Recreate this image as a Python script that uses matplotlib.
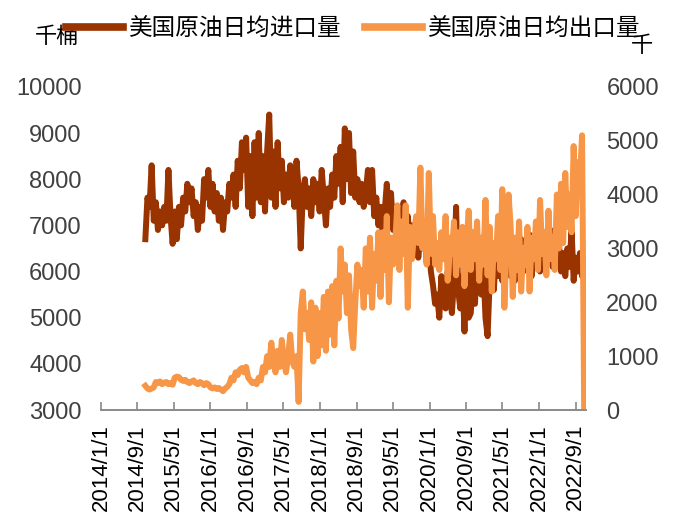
import matplotlib
matplotlib.use('Agg')
import matplotlib.pyplot as plt
import pandas as pd

plt.rcParams['font.family'] = ['Liberation Sans', 'Noto Sans CJK SC', 'DejaVu Sans']

# biweekly points, 2014-10-24 .. 2022-10-28
dates = pd.date_range('2014-10-24', periods=210, freq='14D')

imports = [
    6700, 7600, 7400, 8300, 7100, 7500, 6900, 7300, 7000, 7400,
    7100, 8200, 7200, 6600, 7300, 6700, 7400, 7000, 7600, 7300,
    7900, 7500, 7800, 7200, 7500, 6900, 7400, 7100, 8000, 7600,
    8200, 7400, 7900, 7300, 7700, 7100, 7600, 6900, 7500, 7300,
    7900, 7600, 8100, 7400, 8400, 7800, 8800, 8200, 8900, 7400,
    8500, 7200, 8800, 7600, 9000, 7500, 8500, 7300, 8600, 9400,
    7600, 8600, 7400, 8800, 7800, 8400, 7500, 8100, 7600, 8300,
    7900, 7400, 8400, 7800, 6500, 7700, 8000, 7400, 7800, 7200,
    8000, 7500, 7900, 7300, 8200, 7600, 7000, 7800, 7400, 8100,
    7600, 8500, 7900, 8700, 7500, 9100, 8000, 9000, 7700, 8600,
    7600, 8000, 7500, 7900, 7400, 7700, 8200, 7500, 8200, 7200,
    7600, 7000, 7400, 6900, 7300, 7900, 7100, 7700, 6900, 7400,
    6800, 7300, 7000, 7500, 6800, 7200, 6600, 7000, 6500, 6900,
    6300, 6800, 6500, 6900, 6200, 6700, 6000, 5700, 5300, 5500,
    5000, 5900, 5400, 5200, 6000, 5500, 5100, 5800, 7400, 5600,
    5200, 5900, 4700, 6200, 5000, 5100, 6000, 5300, 6400, 5700,
    5500, 6100, 5000, 4600, 5800, 6300, 5600, 6500, 5900, 6200,
    5800, 6400, 6000, 6600, 5900, 6300, 5800, 6500, 6100, 6700,
    6000, 6600, 6200, 6800, 5900, 6500, 6100, 6700, 6000, 6600,
    6200, 6800, 6300, 6900, 6100, 6700, 6300, 6600, 6000, 6400,
    5900, 6500, 6100, 6900, 5800, 6300, 6000, 6400, 5900, 6000,
]

exports = [
    450, 400, 380, 400, 420, 520, 500, 530, 480, 510,
    520, 480, 500, 470, 600, 620, 610, 560, 540, 560,
    520, 500, 530, 550, 500, 480, 520, 500, 460, 500,
    480, 420, 400, 420, 390, 410, 380, 350, 400, 430,
    480, 600, 550, 700, 650, 750, 780, 700, 800, 600,
    550, 500, 520, 480, 600, 550, 800, 700, 1000, 800,
    1250, 900, 700, 1100, 800, 1300, 900, 700, 1000, 1400,
    900, 800, 1000, 150, 1800, 2200, 1500, 1800, 1300, 2000,
    900, 1900, 1000, 1800, 1200, 2100, 1100, 2200, 1400, 2300,
    1200, 2400, 1700, 3000, 2200, 2700, 1800, 2500, 1500, 1150,
    2000, 2700, 2300, 2600, 1900, 3000, 2200, 3200, 1900, 2900,
    2400, 3300, 2100, 3300, 2600, 3600, 2000, 3200, 2700, 3100,
    3800, 2600, 3500, 2900, 3800, 1900, 3400, 2800, 3300, 3600,
    3100, 4500, 3000, 3500, 2700, 4400, 2900, 3600, 2700, 3100,
    2600, 3300, 2800, 3600, 2400, 3200, 2900, 3500, 2500, 3300,
    2700, 3400, 2300, 3100, 3700, 2600, 3300, 2800, 3500, 2400,
    3200, 2700, 3900, 2500, 3400, 2200, 3100, 2800, 3600, 2600,
    4100, 1900, 3000, 4000, 3400, 2100, 3200, 2600, 3500, 2200,
    3000, 2700, 3400, 2200, 3200, 2800, 3500, 2600, 3900, 2900,
    3300, 2500, 3700, 2800, 3200, 2600, 4000, 3000, 4200, 3100,
    4400, 3400, 4000, 3300, 4900, 3600, 4600, 4300, 5100, 0,
]

tick_dates = pd.date_range('2014-01-01', '2022-09-01', freq='8MS')
tick_labels = [f'{d.year}/{d.month}/{d.day}' for d in tick_dates]

brown = '#993300'
orange = '#F79646'
grey = '#404040'

fig = plt.figure(figsize=(6.73, 5.2), dpi=100)
ax = fig.add_axes([0.150, 0.2115, 0.720, 0.6215])
ax2 = ax.twinx()

l1, = ax.plot(dates, imports, color=brown, lw=4.3, solid_joinstyle='round')
l2, = ax2.plot(dates, exports, color=orange, lw=4.3, solid_joinstyle='round')

ax.set_ylim(3000, 10000)
ax2.set_ylim(0, 6000)
ax.set_yticks(range(3000, 10001, 1000))
ax2.set_yticks(range(0, 6001, 1000))
ax.set_xlim(pd.Timestamp('2014-01-01'), pd.Timestamp('2022-11-06'))
ax.set_xticks(tick_dates)
ax.set_xticklabels(tick_labels, rotation=90)

for a in (ax, ax2):
    for s in ['top', 'left', 'right']:
        a.spines[s].set_visible(False)
    a.spines['bottom'].set_color('#898989')
    a.spines['bottom'].set_linewidth(1.2)
ax.tick_params(axis='x', direction='in', length=6, width=1.2, color='#898989',
               labelsize=16, labelcolor='black', pad=10)
ax.tick_params(axis='y', length=0, labelsize=17, labelcolor=grey, pad=14)
ax2.tick_params(axis='y', length=0, labelsize=17, labelcolor=grey, pad=15)

fig.text(0.052, 0.929, '千桶', fontsize=16, ha='left', va='center', family=['Noto Sans CJK SC'])
fig.text(0.938, 0.912, '千', fontsize=16, ha='left', va='center', family=['Noto Sans CJK SC'])

leg = fig.legend([l1, l2], ['美国原油日均进口量', '美国原油日均出口量'], loc='center',
                 bbox_to_anchor=(0.525, 0.944), ncol=2, frameon=False, handlelength=2.4,
                 handletextpad=0.25, columnspacing=1.0,
                 prop={'family': 'Noto Sans CJK SC', 'size': 17})
for h in leg.legend_handles:
    h.set_linewidth(5.5)

fig.savefig('out.png', dpi=100)
